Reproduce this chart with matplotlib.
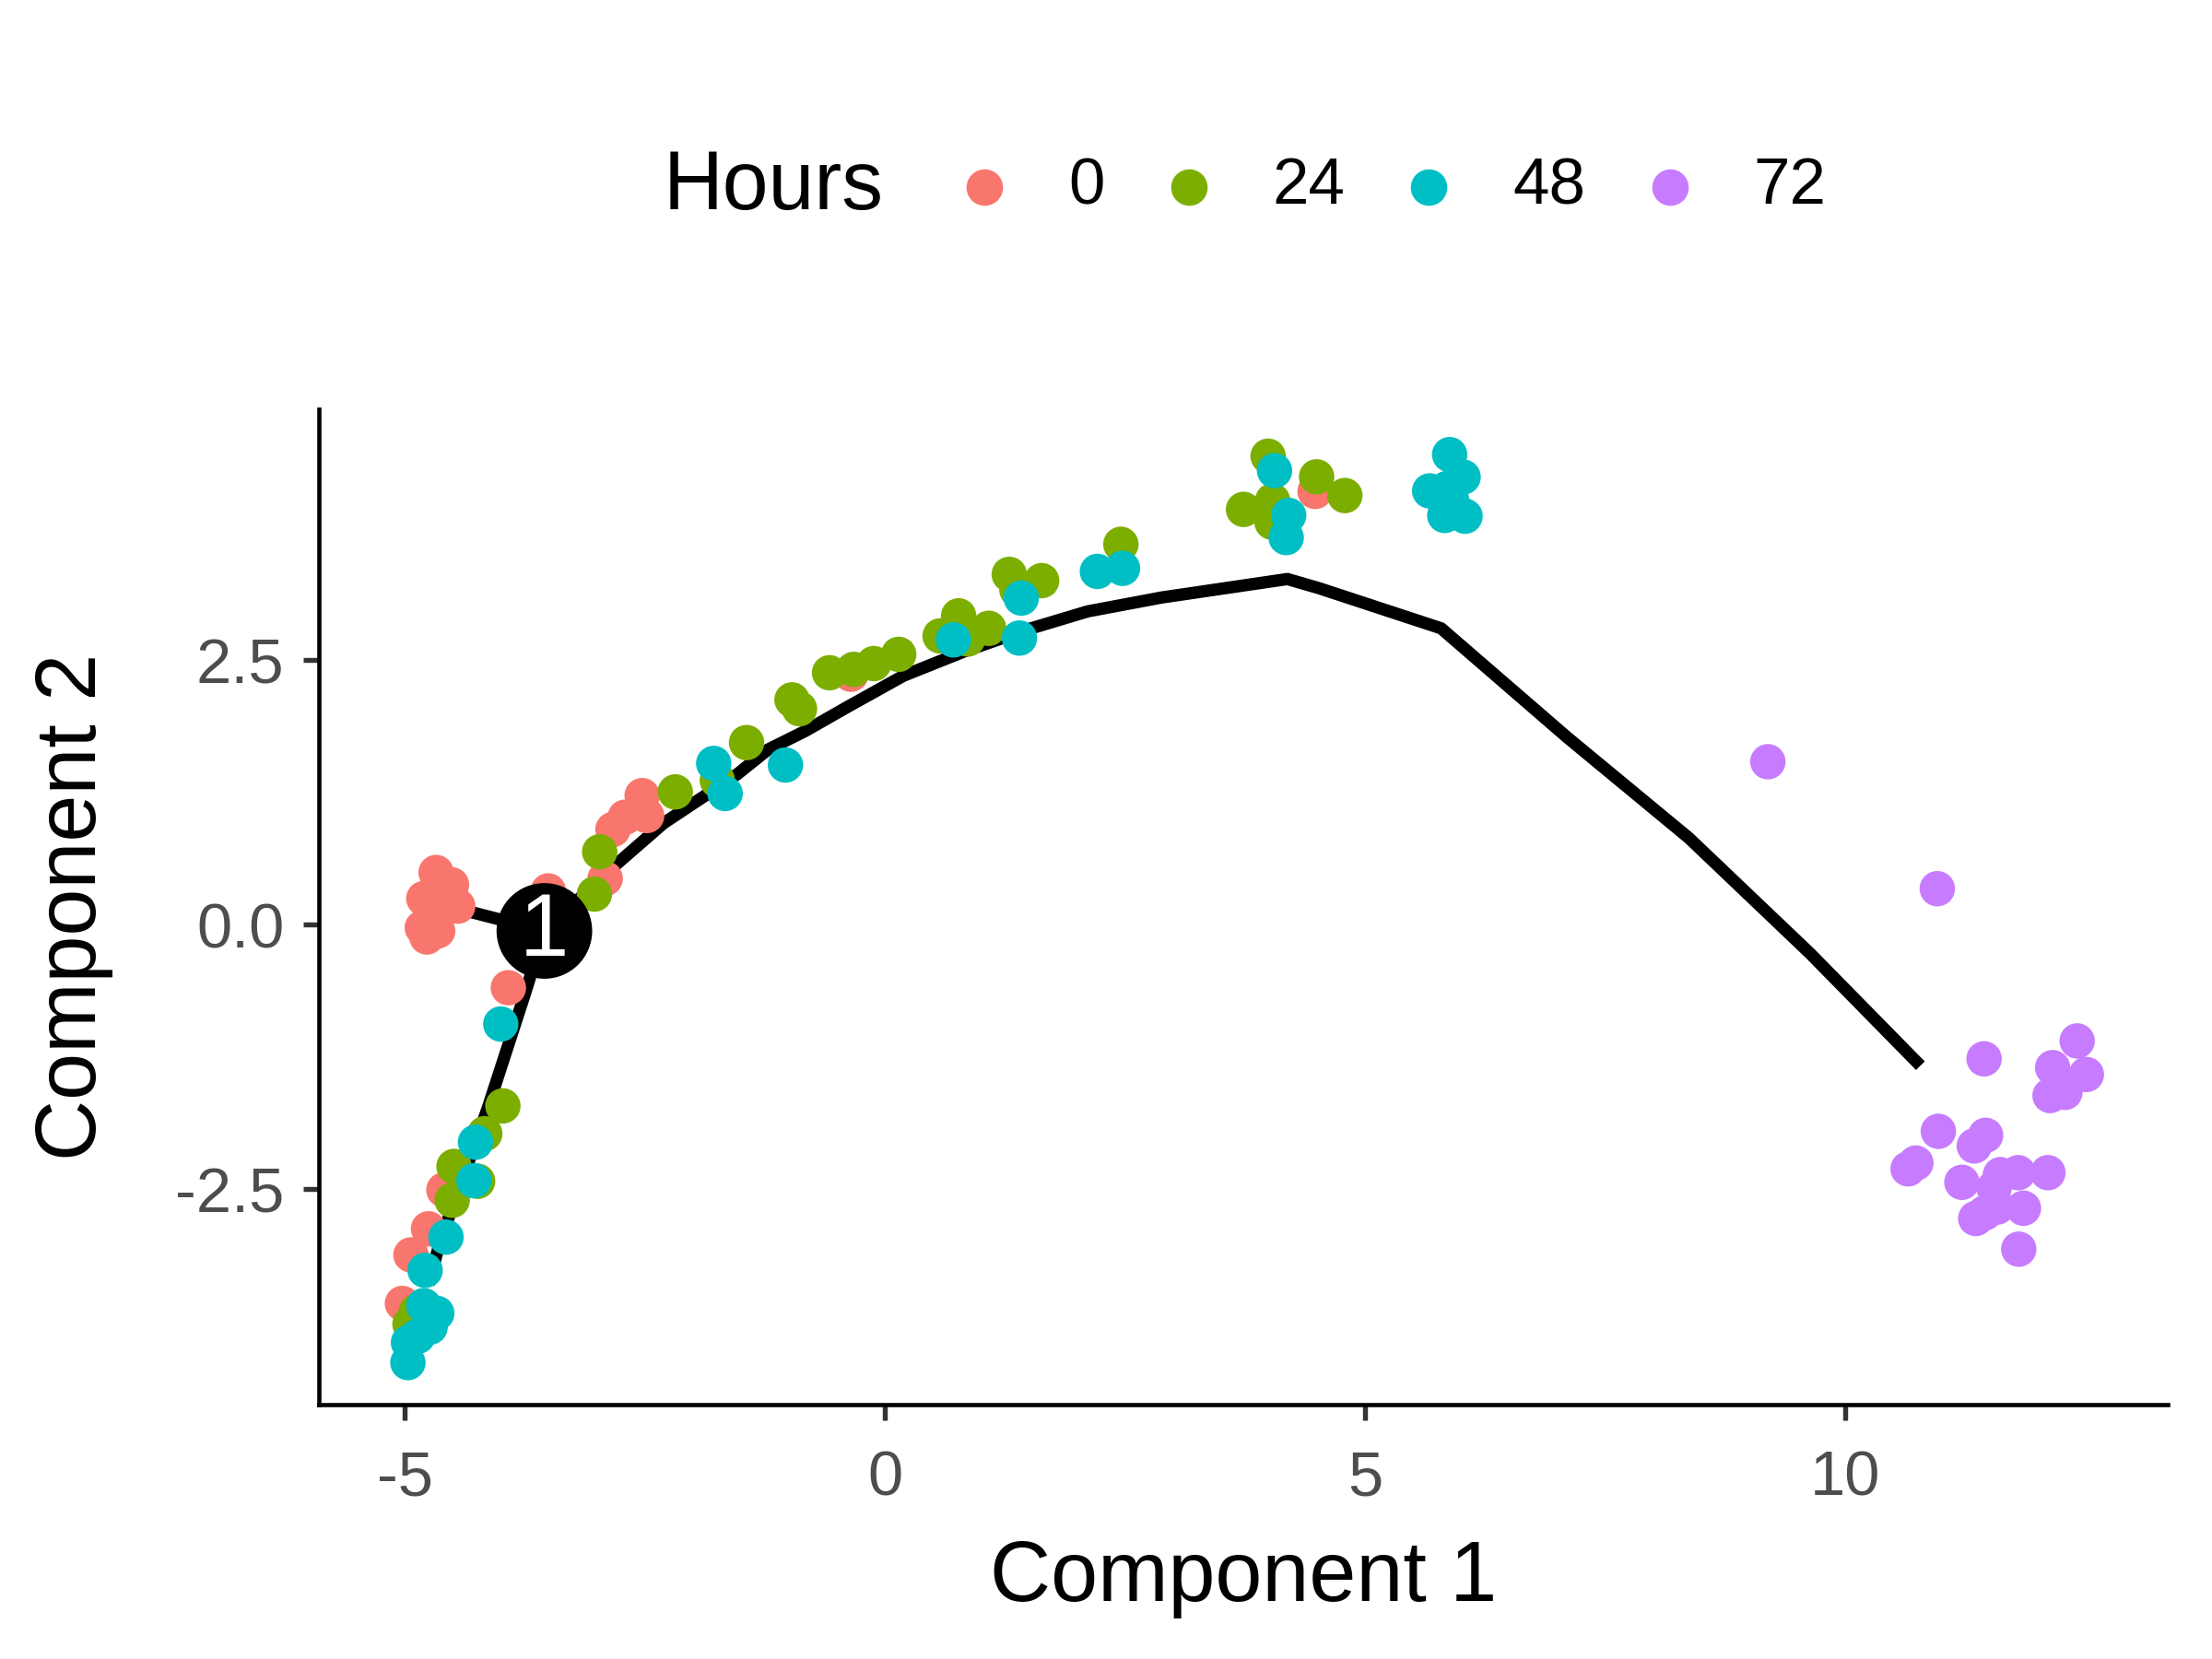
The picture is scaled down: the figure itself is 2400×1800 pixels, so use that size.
import numpy as np
import matplotlib
matplotlib.use("Agg")
import matplotlib.pyplot as plt

plt.rcParams['font.family'] = ['Liberation Sans', 'DejaVu Sans']

# cells (Component 1, Component 2)
h0_x = [-4.673, -4.513, -4.801, -4.448, -4.641, -4.817, -4.657, -4.769, -3.505, -3.921,
        -2.913, -2.832, -2.705, -2.528, -2.481, -0.354, 4.478, -4.592, -4.752, -4.935, -5.024]
h0_y = [0.493, 0.377, 0.247, 0.175, 0.203, -0.029, -0.059, -0.116, 0.319, -0.596,
        0.436, 0.900, 1.016, 1.220, 1.031, 2.367, 4.095, -2.507, -2.875, -3.121, -3.580]

h24_x = [-2.970, -3.025, -2.183, -1.745, -1.441, -0.968, -0.890, -0.577, -0.325, -0.116,
         0.143, 0.574, 0.767, 0.862, 1.080, 1.294, 1.631, 1.374, 2.456, 3.989,
         4.494, 4.788, 3.733, 4.036, 4.030, -3.978, -4.166, -4.487, -4.241, -4.506,
         -4.880, -4.945]
h24_y = [0.689, 0.289, 1.255, 1.364, 1.721, 2.125, 2.041, 2.381, 2.413, 2.468,
         2.555, 2.729, 2.919, 2.700, 2.801, 3.311, 3.252, 3.165, 3.595, 4.428,
         4.233, 4.056, 3.925, 4.007, 3.804, -1.713, -1.975, -2.285, -2.425, -2.605,
         -3.659, -3.775]

h48_x = [-4.000, -4.263, -4.279, -4.570, -4.788, -4.801, -4.666, -4.736, -4.864, -4.961,
         -4.967, -1.783, -1.664, -1.036, 0.713, 1.400, 1.419, 2.212, 2.473, 4.056,
         4.203, 4.177, 5.879, 6.019, 5.671, 5.853, 5.901, 5.828, 6.039]
h48_y = [-0.939, -2.056, -2.419, -2.953, -3.267, -3.601, -3.673, -3.804, -3.891, -3.949,
         -4.139, 1.524, 1.240, 1.509, 2.692, 2.709, 3.087, 3.339, 3.368, 4.291,
         3.868, 3.659, 4.443, 4.231, 4.100, 4.123, 4.007, 3.868, 3.861]

h72_x = [9.192, 10.956, 11.443, 12.412, 12.157, 12.508, 12.285, 12.130, 10.967, 11.459,
         11.341, 10.733, 10.652, 11.212, 11.613, 11.798, 12.108, 11.548, 11.581, 11.853,
         11.452, 11.356, 11.804]
h72_y = [1.540, 0.340, -1.268, -1.099, -1.351, -1.416, -1.585, -1.615, -1.953, -1.991,
         -2.091, -2.253, -2.308, -2.435, -2.363, -2.344, -2.344, -2.489, -2.669, -2.680,
         -2.724, -2.777, -3.067]

hours = ['0', '24', '48', '72']
colors = ['#F8766D', '#7CAE00', '#00BFC4', '#C77CFF']

# trajectory (minimum spanning tree) branches
main_x = [-3.546, -2.785, -2.305, -1.826, -1.537, -1.218, -0.833, -0.385, 0.191, 0.830,
          1.471, 2.110, 2.878, 4.190, 4.520, 5.790, 7.102, 8.369, 9.633, 10.780]
main_y = [-0.059, 0.580, 0.959, 1.248, 1.423, 1.655, 1.829, 2.061, 2.352, 2.584,
          2.787, 2.961, 3.092, 3.267, 3.180, 2.801, 1.771, 0.820, -0.273, -1.333]
left_x = [-3.546, -4.514]
left_y = [-0.059, 0.167]
down_x = [-3.546, -3.751, -4.133, -4.368, -4.632, -4.75]
down_y = [-0.059, -0.660, -1.727, -2.327, -2.993, -3.40]

branch_x = -3.546
branch_y = -0.059

fig = plt.figure(figsize=(8, 6), dpi=300)
ax = fig.add_axes([0.1441, 0.1531, 0.8361, 0.6003])

for bx, by in [(main_x, main_y), (left_x, left_y), (down_x, down_y)]:
    ax.plot(bx, by, color='black', lw=3.2, solid_capstyle='butt', zorder=1)

groups = [(h0_x, h0_y), (h24_x, h24_y), (h48_x, h48_y), (h72_x, h72_y)]
for (gx, gy), c in zip(groups, colors):
    ax.scatter(gx, gy, s=85, color=c, edgecolors='none', zorder=2)

ax.scatter([branch_x], [branch_y], s=620, color='black', edgecolors='none', zorder=3)
ax.text(branch_x, branch_y - 0.02, '1', color='white', fontsize=23, ha='center', va='center', zorder=4)

ax.set_xlim(-5.895, 13.36)
ax.set_ylim(-4.54, 4.873)
ax.set_xticks([-5, 0, 5, 10])
ax.set_xticklabels(['-5', '0', '5', '10'])
ax.set_yticks([-2.5, 0.0, 2.5])
ax.set_yticklabels(['-2.5', '0.0', '2.5'])

for s in ['top', 'right']:
    ax.spines[s].set_visible(False)
for s in ['left', 'bottom']:
    ax.spines[s].set_linewidth(1.1)
    ax.spines[s].set_color('black')
ax.tick_params(axis='both', length=4, width=1.3, color='#333333',
               labelsize=16.5, labelcolor='#4D4D4D')
ax.tick_params(axis='x', pad=7.5)
ax.tick_params(axis='y', pad=5)

ax.set_xlabel('Component 1', fontsize=22, labelpad=8)
ax.set_ylabel('Component 2', fontsize=22, labelpad=16)

# legend across the top
leg_y = 0.887
fig.text(0.2997, leg_y, 'Hours', fontsize=21.5, ha='left', va='center')
mark_x = [0.445, 0.5376, 0.646, 0.755]
lab_x = [0.483, 0.575, 0.6837, 0.7927]
for mx, lx, lab, c in zip(mark_x, lab_x, hours, colors):
    fig.add_artist(plt.Line2D([mx], [leg_y], marker='o', markersize=9.5, color=c,
                              markeredgewidth=0, linestyle='none', transform=fig.transFigure))
    fig.text(lx, leg_y, lab, fontsize=17, ha='left', va='center')

fig.savefig('out.png', dpi=300, facecolor='white')
